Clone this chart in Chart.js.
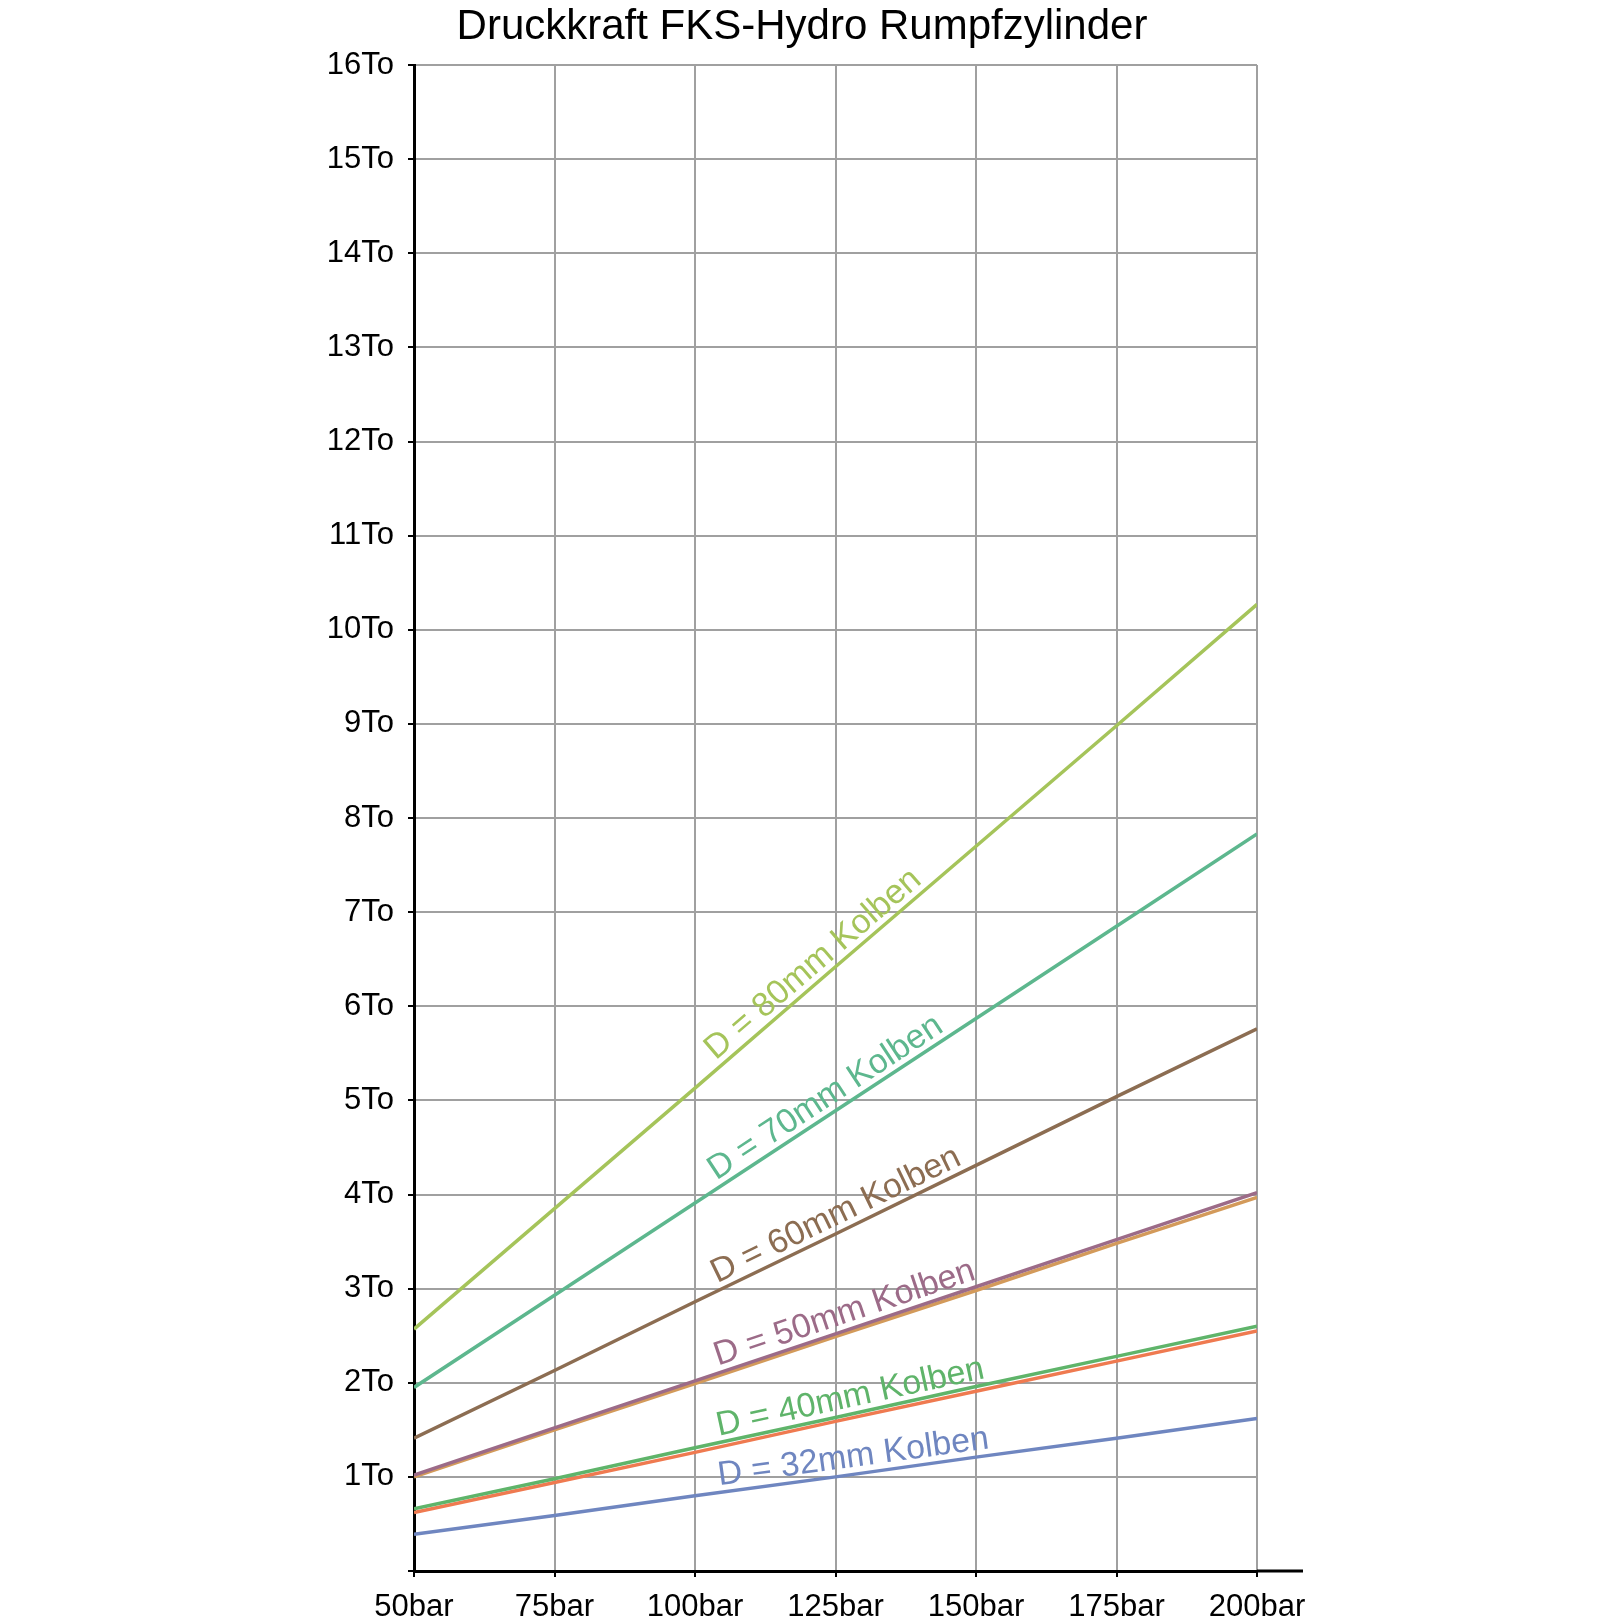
<!DOCTYPE html>
<html><head><meta charset="utf-8">
<script src="https://cdn.jsdelivr.net/npm/chart.js@4"></script>
<style>body{margin:0;background:#fff}</style></head>
<body><canvas id="c" width="1620" height="1620"></canvas>
<script>
const pressures=[50,75,100,125,150,175,200];
const d80=[2.57,3.85,5.13,6.42,7.70,8.98,10.27];
const d70=[1.95,2.93,3.91,4.89,5.87,6.85,7.83];
const d60=[1.41,2.13,2.86,3.58,4.31,5.04,5.76];
const d50a=[1.02,1.52,2.02,2.52,3.02,3.52,4.02];
const d50b=[1.00,1.50,1.99,2.49,2.98,3.48,3.97];
const d40a=[0.66,0.98,1.31,1.63,1.96,2.28,2.60];
const d40b=[0.62,0.94,1.26,1.59,1.91,2.23,2.55];
const d32=[0.39,0.59,0.80,1.00,1.21,1.41,1.62];
const yTicks=[1,2,3,4,5,6,7,8,9,10,11,12,13,14,15,16];
const series=[
 {n:'D = 80mm Kolben',d:d80,c:'#a5c45a',lbl:true},
 {n:'D = 70mm Kolben',d:d70,c:'#5db78e',lbl:true},
 {n:'D = 60mm Kolben',d:d60,c:'#8c6d52',lbl:true},
 {n:'D = 50mm Kolben',d:d50a,c:'#9c6b88',lbl:true},
 {n:'',d:d50b,c:'#d39a5a',lbl:false},
 {n:'D = 40mm Kolben',d:d40a,c:'#5fb46a',lbl:true},
 {n:'',d:d40b,c:'#ef7a50',lbl:false},
 {n:'D = 32mm Kolben',d:d32,c:'#6f86c0',lbl:true}];
const F='Arimo, "Liberation Sans", Arial, sans-serif';
const deco={id:'deco',afterDraw(ch){
 const c=ch.ctx,x=ch.scales.x,y=ch.scales.y;
 c.save();
 c.fillStyle='#000';c.font='42px '+F;c.textAlign='center';c.textBaseline='middle';
 c.fillText('Druckkraft FKS-Hydro Rumpfzylinder',802,27);
 c.strokeStyle='#000';c.lineWidth=3;c.beginPath();c.moveTo(x.right,y.bottom);c.lineTo(1303,y.bottom);c.stroke();
 c.font='34px '+F;c.textAlign='left';c.textBaseline='alphabetic';
 series.forEach(s=>{if(!s.lbl)return;
  const x0=x.getPixelForValue(50),y0=y.getPixelForValue(s.d[0]);
  const x1=x.getPixelForValue(200),y1=y.getPixelForValue(s.d[6]);
  const a=Math.atan2(y1-y0,x1-x0);
  const b=104.5,t=(b-50)/150;
  const px=x0+(x1-x0)*t,py=y0+(y1-y0)*t;
  c.save();c.translate(px,py);c.rotate(a);c.fillStyle=s.c;c.fillText(s.n,0,-7);c.restore();});
 c.restore();}};
new Chart(document.getElementById('c'),{type:'line',
 data:{datasets:series.map(s=>({data:pressures.map((p,i)=>({x:p,y:s.d[i]})),borderColor:s.c,borderWidth:3.5,pointRadius:0,fill:false}))},
 options:{responsive:false,animation:false,
  layout:{padding:{top:65,right:363,left:0,bottom:0}},
  plugins:{legend:{display:false},title:{display:false},tooltip:{enabled:false}},
  scales:{
   x:{type:'linear',min:50,max:200,afterBuildTicks(s){s.ticks=pressures.map(v=>({value:v}));},
    afterFit(s){s.height=49;},
    ticks:{callback:v=>v+'bar',color:'#000',font:{size:31,family:F},padding:12,maxRotation:0},
    grid:{color:'#a0a0a0',lineWidth:2,tickColor:'#000',tickLength:6},
    border:{color:'#000',width:3}},
   y:{min:0,max:16,afterBuildTicks(s){s.ticks=[0,...yTicks].map(v=>({value:v}));},
    afterFit(s){s.width=414;},
    ticks:{callback:v=>v===0?'':v+'To',color:'#000',font:{size:31,family:F},padding:14},
    grid:{color:'#a0a0a0',lineWidth:2,tickColor:'#000',tickLength:6},
    border:{color:'#000',width:3}}}},
 plugins:[deco]});
</script></body></html>
